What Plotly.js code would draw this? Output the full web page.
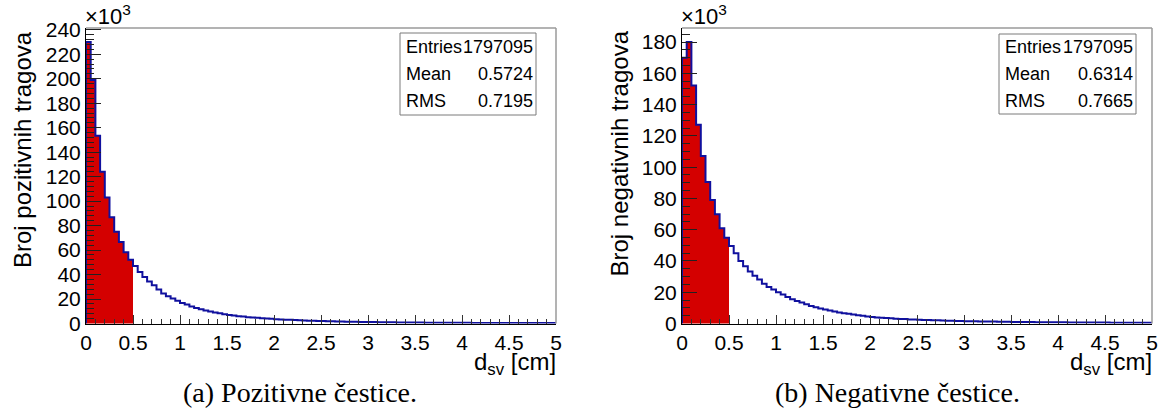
<!DOCTYPE html>
<html>
<head>
<meta charset="utf-8">
<script src="https://cdn.plot.ly/plotly-3.0.1.min.js"></script>
<style>
  html, body { margin: 0; padding: 0; background: #fff; }
  #chart { width: 1161px; height: 414px; }
</style>
</head>
<body>
<div id="chart"></div>
<script>
// ---------------- DATA ----------------
const binWidth = 0.05;           // cm
const xRange = [0, 5];
const filledBins = 10;           // bins 0 .. 0.5 cm drawn in red

// Counts per bin (x10^3), positive tracks
const positiveCounts = [
  230, 199, 153.5, 124, 103, 86.8, 75, 66.7, 58.2, 52,
  47.0, 42.1, 38.0, 34.3, 31.3, 27.7, 24.5, 22.3, 20.4, 18.5,
  16.8, 15.5, 13.9, 12.7, 11.7, 10.6, 9.8, 9.0, 8.4, 7.6,
  7.0, 6.5, 6.0, 5.7, 5.1, 4.9, 4.6, 4.3, 4.1, 3.8,
  3.5, 3.3, 3.1, 3.0, 2.8, 2.6, 2.5, 2.3, 2.2, 2.1,
  2.0, 1.9, 1.8, 1.7, 1.6, 1.5, 1.45, 1.4, 1.3, 1.25,
  1.2, 1.15, 1.1, 1.05, 1.0, 0.95, 0.9, 0.87, 0.83, 0.8,
  0.77, 0.74, 0.71, 0.68, 0.66, 0.64, 0.62, 0.6, 0.58, 0.56,
  0.54, 0.52, 0.5, 0.49, 0.47, 0.46, 0.44, 0.43, 0.42, 0.41,
  0.40, 0.39, 0.38, 0.37, 0.36, 0.35, 0.34, 0.33, 0.33, 0.32
];

// Counts per bin (x10^3), negative tracks
const negativeCounts = [
  170, 180, 152.2, 127.1, 107.1, 90.5, 79, 69.9, 60.9, 54.8,
  49.5, 45.0, 40.0, 36.6, 33.3, 30.6, 28.1, 25.5, 23.4, 21.7,
  20.0, 18.5, 17.0, 15.5, 14.4, 13.4, 12.3, 11.2, 10.4, 9.6,
  8.9, 8.3, 7.7, 7.0, 6.6, 6.2, 5.7, 5.3, 4.9, 4.5,
  4.2, 3.9, 3.7, 3.5, 3.3, 3.1, 2.9, 2.8, 2.6, 2.5,
  2.4, 2.3, 2.2, 2.1, 2.0, 1.9, 1.8, 1.7, 1.65, 1.6,
  1.5, 1.45, 1.4, 1.35, 1.3, 1.25, 1.2, 1.15, 1.1, 1.05,
  1.0, 0.98, 0.95, 0.92, 0.9, 0.87, 0.85, 0.82, 0.8, 0.78,
  0.75, 0.73, 0.71, 0.69, 0.67, 0.65, 0.63, 0.62, 0.6, 0.58,
  0.57, 0.55, 0.54, 0.53, 0.52, 0.5, 0.49, 0.48, 0.47, 0.46
];

const statsPositive = [["Entries", "1797095"], ["Mean", "0.5724"], ["RMS", "0.7195"]];
const statsNegative = [["Entries", "1797095"], ["Mean", "0.6314"], ["RMS", "0.7665"]];

const yTitles = ["Broj pozitivnih tragova", "Broj negativnih tragova"];
const xTitle = "d<sub>sv</sub> [cm]";
const captions = ["(a) Pozitivne čestice.", "(b) Negativne čestice."];
const scaleLabel = "×10<sup>3</sup>";

// ---------------- LAYOUT HELPERS ----------------
const W = 1161, H = 414;
const px = x => x / W;
const py = y => 1 - y / H;

const panels = [
  { left: 86, right: 556, top: 28, bottom: 323.5, ymax: 241.5, minor: 4,
    box: [400, 536, 33, 115], counts: positiveCounts, stats: statsPositive,
    capX: 300, xa: 'x', ya: 'y' },
  { left: 682, right: 1152, top: 28, bottom: 323.5, ymax: 189, minor: 5,
    box: [999, 1136, 34, 114], counts: negativeCounts, stats: statsNegative,
    capX: 897, xa: 'x2', ya: 'y2' }
];

const RED = '#d40000';
const BLUE = '#10109e';
const sans = '"Liberation Sans", Arial, Helvetica, sans-serif';

const traces = [];
const shapes = [];
const annotations = [];
const layout = {
  width: W, height: H,
  margin: { l: 0, r: 0, t: 0, b: 0, pad: 0 },
  paper_bgcolor: '#fff', plot_bgcolor: '#fff',
  showlegend: false, bargap: 0,
  font: { family: sans, color: '#000' }
};

panels.forEach((p, k) => {
  const n = p.counts.length;
  const centers = p.counts.map((_, i) => xRange[0] + (i + 0.5) * binWidth);
  const edges = p.counts.map((_, i) => xRange[0] + i * binWidth);

  // red filled part
  traces.push({
    type: 'bar', xaxis: p.xa, yaxis: p.ya,
    x: centers.slice(0, filledBins), y: p.counts.slice(0, filledBins),
    width: binWidth, marker: { color: RED, line: { width: 0 } },
    hoverinfo: 'skip'
  });
  // step outline
  traces.push({
    type: 'scatter', mode: 'lines', xaxis: p.xa, yaxis: p.ya,
    x: [xRange[0]].concat(edges, [xRange[1]]),
    y: [0].concat(p.counts, [p.counts[n - 1]]),
    line: { shape: 'hv', color: BLUE, width: 2 },
    hoverinfo: 'skip'
  });

  const xName = k === 0 ? 'xaxis' : 'xaxis2';
  const yName = k === 0 ? 'yaxis' : 'yaxis2';
  layout[xName] = {
    domain: [px(p.left), px(p.right)], anchor: p.ya,
    range: xRange, showline: true, linecolor: '#000', linewidth: 1,
    ticks: 'inside', ticklen: 9, tickwidth: 1, tickcolor: '#333',
    tick0: 0, dtick: 0.5,
    minor: { ticks: 'inside', dtick: 0.1, ticklen: 5, tickwidth: 1, tickcolor: '#333' },
    showgrid: false, zeroline: false, fixedrange: true,
    tickfont: { family: sans, size: 21, color: '#000' }
  };
  layout[yName] = {
    domain: [py(p.bottom), py(p.top)], anchor: p.xa,
    range: [0, p.ymax], showline: true, linecolor: '#000', linewidth: 1,
    ticks: 'inside', ticklen: 15, tickwidth: 1, tickcolor: '#222',
    tick0: 0, dtick: 20,
    minor: { ticks: 'inside', dtick: p.minor, ticklen: 8, tickwidth: 1, tickcolor: '#222' },
    showgrid: false, zeroline: false, fixedrange: true,
    tickfont: { family: sans, size: 21, color: '#000' }
  };

  // grey top and right frame
  shapes.push({ type: 'line', xref: 'paper', yref: 'paper', layer: 'above',
    x0: px(p.left), x1: px(p.right), y0: py(p.top), y1: py(p.top),
    line: { color: '#9a9a9a', width: 1.5 } });
  shapes.push({ type: 'line', xref: 'paper', yref: 'paper', layer: 'above',
    x0: px(p.right), x1: px(p.right), y0: py(p.top), y1: py(p.bottom),
    line: { color: '#9a9a9a', width: 1.5 } });

  // stats box
  const [bx0, bx1, by0, by1] = p.box;
  shapes.push({ type: 'rect', xref: 'paper', yref: 'paper', layer: 'above',
    x0: px(bx0), x1: px(bx1), y0: py(by1), y1: py(by0),
    fillcolor: '#fff', line: { color: '#7a7a7a', width: 1 } });
  const rowH = (by1 - by0) / p.stats.length;
  p.stats.forEach((row, r) => {
    const yc = by0 + rowH * (r + 0.5);
    annotations.push({ xref: 'paper', yref: 'paper', x: px(bx0 + 4), y: py(yc),
      xanchor: 'left', yanchor: 'middle', showarrow: false, text: row[0],
      font: { family: sans, size: 18, color: '#000' } });
    annotations.push({ xref: 'paper', yref: 'paper', x: px(bx1 - 1), y: py(yc),
      xanchor: 'right', yanchor: 'middle', showarrow: false, text: row[1],
      font: { family: sans, size: 18, color: '#000' } });
  });

  // x10^3 scale label
  annotations.push({ xref: 'paper', yref: 'paper', x: px(p.left - 3), y: py(31),
    xanchor: 'left', yanchor: 'bottom', showarrow: false, text: scaleLabel,
    font: { family: sans, size: 22, color: '#000' } });

  // y title (right aligned to the top, rotated)
  annotations.push({ xref: 'paper', yref: 'paper', x: px(p.left - 79), y: py(p.top + 1),
    xanchor: 'left', yanchor: 'top', showarrow: false, textangle: -90,
    text: yTitles[k], font: { family: sans, size: 24, color: '#000' } });

  // x title (right aligned)
  annotations.push({ xref: 'paper', yref: 'paper', x: px(p.right + 2), y: py(346),
    xanchor: 'right', yanchor: 'top', showarrow: false, text: xTitle,
    font: { family: sans, size: 24, color: '#000' } });

  // caption
  annotations.push({ xref: 'paper', yref: 'paper', x: px(p.capX), y: py(392),
    xanchor: 'center', yanchor: 'middle', showarrow: false, text: captions[k],
    font: { family: '"Liberation Serif", "Times New Roman", serif', size: 28, color: '#000' } });
});

layout.shapes = shapes;
layout.annotations = annotations;

Plotly.newPlot('chart', traces, layout, { staticPlot: true, displayModeBar: false });
</script>
</body>
</html>
